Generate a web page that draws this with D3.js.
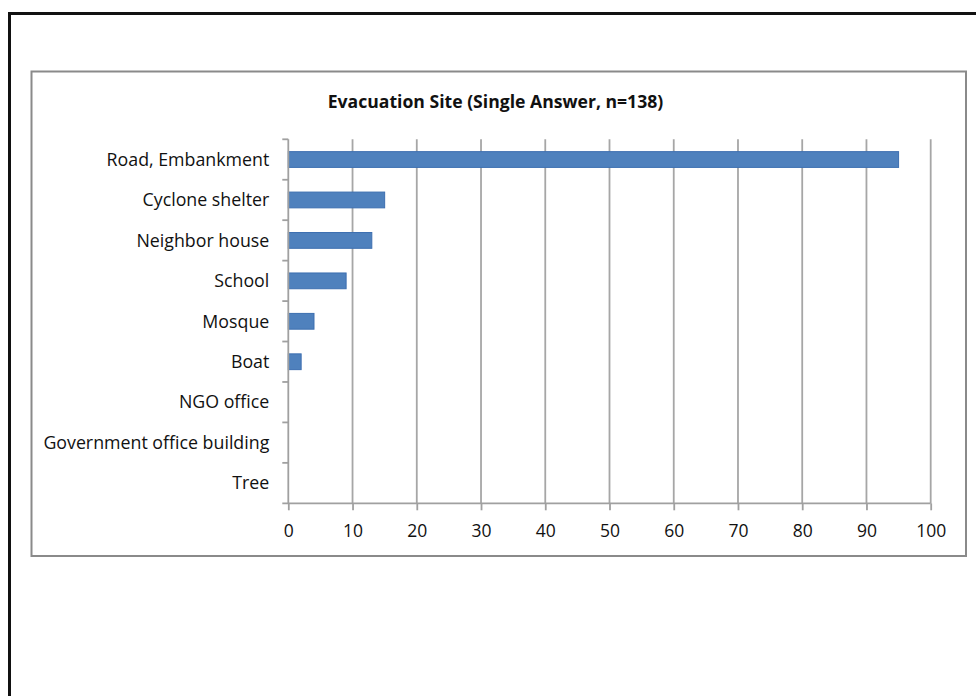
<!DOCTYPE html>
<html>
<head>
<meta charset="utf-8">
<script src="https://cdn.jsdelivr.net/npm/d3@7"></script>
<style>
  html, body { margin: 0; padding: 0; background: #fff; }
  svg { display: block; }
  text { font-family: "Open Sans", "Noto Sans", sans-serif; fill: #111; }
</style>
</head>
<body>
<svg id="chart" width="976" height="696"></svg>
<script>
// Evacuation sites, single answer, n = 138
const categories = ["Road, Embankment", "Cyclone shelter", "Neighbor house", "School",
                    "Mosque", "Boat", "NGO office", "Government office building", "Tree"];
const counts = [95, 15, 13, 9, 4, 2, 0, 0, 0];
const xTicks = [0, 10, 20, 30, 40, 50, 60, 70, 80, 90, 100];
const title = "Evacuation Site (Single Answer, n=138)";

const svg = d3.select("#chart");

// page frame (runs off the right and bottom edges)
svg.append("rect")
  .attr("x", 9.5).attr("y", 13.5).attr("width", 1100).attr("height", 1100)
  .attr("fill", "none").attr("stroke", "#111").attr("stroke-width", 3);

// chart area frame
svg.append("rect")
  .attr("x", 31.5).attr("y", 71.5).attr("width", 934.5).attr("height", 484.5)
  .attr("fill", "#fff").attr("stroke", "#8a8a8a").attr("stroke-width", 2);

const plot = { left: 288.3, right: 930.7, top: 139.3, bottom: 503.3 };

const x = d3.scaleLinear().domain([0, 100]).range([plot.left, plot.right]);
const y = d3.scaleBand().domain(categories).range([plot.top, plot.bottom]).paddingInner(0.61).paddingOuter(0.305);
const yb = d3.scaleBand().domain(categories).range([plot.top, plot.bottom]);

// vertical gridlines
svg.append("g").selectAll("line").data(xTicks.slice(1)).join("line")
  .attr("x1", d => x(d)).attr("x2", d => x(d))
  .attr("y1", plot.top).attr("y2", plot.bottom)
  .attr("stroke", "#a6a6a6").attr("stroke-width", 1.8);

// bars
svg.append("g").selectAll("rect").data(categories).join("rect")
  .attr("x", x(0))
  .attr("y", d => y(d))
  .attr("width", (d, i) => x(counts[i]) - x(0))
  .attr("height", y.bandwidth())
  .attr("fill", "#4f81bd")
  .attr("stroke", "#3d6fb0").attr("stroke-width", (d, i) => counts[i] > 0 ? 1 : 0);

// x axis
const xAxis = svg.append("g").attr("transform", `translate(0,${plot.bottom})`)
  .call(d3.axisBottom(x).tickValues(xTicks).tickSize(7).tickPadding(14).tickFormat(d3.format("d")));
xAxis.select(".domain").attr("stroke", "#a0a0a0").attr("stroke-width", 1.8)
  .attr("d", `M${plot.left - 6},0H${plot.right}`);
xAxis.selectAll(".tick line").attr("stroke", "#a0a0a0").attr("stroke-width", 1.8);
xAxis.selectAll(".tick text").attr("font-size", 17.5).attr("fill", "#111");

// y axis: category separators
const yAxisG = svg.append("g");
yAxisG.append("line")
  .attr("x1", plot.left).attr("x2", plot.left)
  .attr("y1", plot.top).attr("y2", plot.bottom)
  .attr("stroke", "#a0a0a0").attr("stroke-width", 1.8);
yAxisG.selectAll("line.sep").data(categories).join("line").attr("class", "sep")
  .attr("x1", plot.left - 6).attr("x2", plot.left)
  .attr("y1", d => yb(d)).attr("y2", d => yb(d))
  .attr("stroke", "#a0a0a0").attr("stroke-width", 1.8);
yAxisG.selectAll("text").data(categories).join("text")
  .attr("x", plot.left - 19)
  .attr("y", d => yb(d) + yb.bandwidth() / 2)
  .attr("dy", "0.35em")
  .attr("text-anchor", "end")
  .attr("font-size", 17.8)
  .text(d => d);

// title
svg.append("text")
  .attr("x", 495.5).attr("y", 108)
  .attr("text-anchor", "middle")
  .attr("font-size", 17.6).attr("font-weight", 700)
  .text(title);
</script>
</body>
</html>
